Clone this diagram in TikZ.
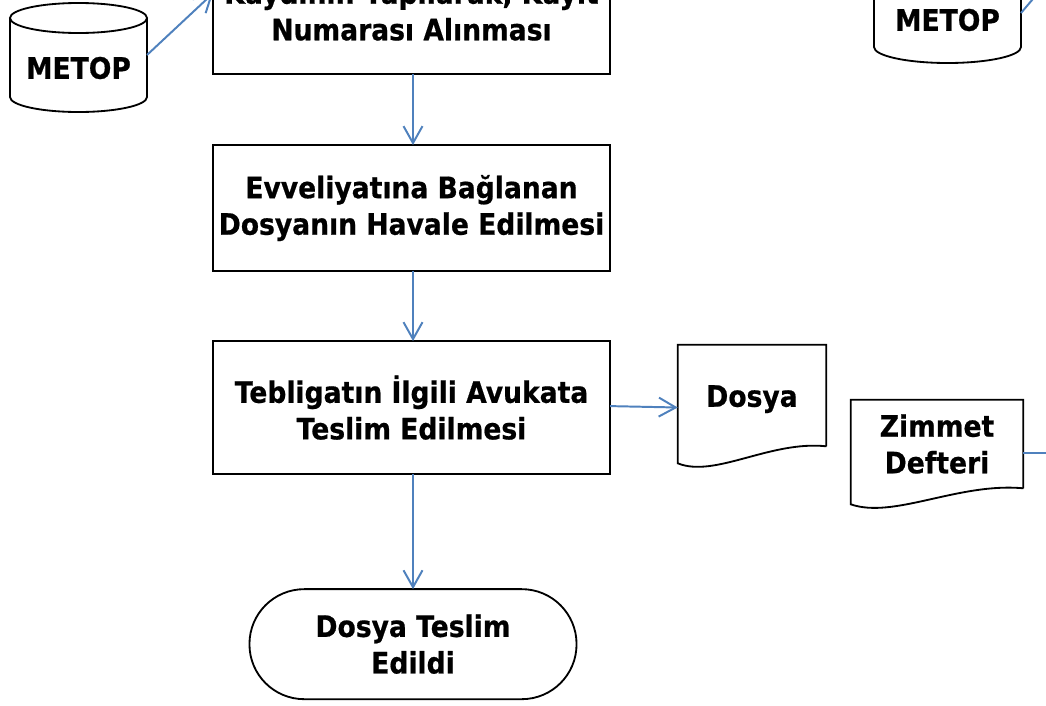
\documentclass[tikz,border=0pt]{standalone}
\usepackage{fontspec}
\setmainfont{DejaVu Sans}[FakeStretch=0.9,BoldFeatures={FakeBold=0.6}]
\usetikzlibrary{arrows.meta,calc,positioning}
\definecolor{okmavi}{RGB}{79,129,189}

\begin{document}
\begin{tikzpicture}[x=0.025cm,y=-0.025cm,
  yazi/.style={align=center,inner sep=0pt,font=\fontsize{21}{26}\selectfont\bfseries},
  kutu/.style={yazi,draw,line width=1.3pt,outer sep=0pt,minimum width=9.925cm,minimum height=3.15cm},
  cizgi/.style={line width=1.3pt},
  ok/.style={okmavi,line width=1.4pt,-{Straight Barb[length=12pt,width=13.5pt]}},
  bag/.style={okmavi,line width=1.4pt}]
  \useasboundingbox (0,0) rectangle (1046,705);
  \clip (0,0) rectangle (1046,705);

  % ana akis
  \node[kutu] (kayit) at (411.5,11) {Kaydının Yapılarak, Kayıt\\Numarası Alınması};
  \node[kutu,below=1.775cm of kayit] (evveliyat) {Evveliyatına Bağlanan\\Dosyanın Havale Edilmesi};
  \node[kutu,below=1.75cm of evveliyat,minimum height=3.325cm] (teblig) {Tebligatın İlgili Avukata\\Teslim Edilmesi};
  \node[kutu,below=2.875cm of teblig,xshift=0.0375cm,minimum width=8.175cm,minimum height=2.75cm,
        rounded corners=1.37cm] (son) {Dosya Teslim\\Edildi};
  \draw[ok] ($(kayit.south)+(1.5,0)$) -- ($(evveliyat.north)+(1.5,0)$);
  \draw[ok] ($(evveliyat.south)+(1.5,0)$) -- ($(teblig.north)+(1.5,0)$);
  \draw[ok] (son.north |- teblig.south) -- (son.north);

  % belgeler
  \node[yazi,minimum width=3.7cm,minimum height=2.525cm,text height=20pt,text depth=4pt] (dosya) at (752,395.5) {Dosya};
  \draw[cizgi] (dosya.south east) -- (dosya.north east) -- (dosya.north west)
     -- ($(dosya.south west)+(0,17)$) .. controls +(37,15) and +(-56,-6) .. (dosya.south east);
  \node[yazi,minimum width=4.3cm,minimum height=2.2cm] (zimmet) at (937,444) {Zimmet\\Defteri};
  \draw[cizgi] (zimmet.south east) -- (zimmet.north east) -- (zimmet.north west)
     -- ($(zimmet.south west)+(0,16)$) .. controls +(43,15) and +(-65,-6) .. (zimmet.south east);
  \draw[ok] ($(teblig.east)+(0,-1.5)$) -- ($(dosya.west)+(0,12)$);
  \coordinate (zimmetdis) at (1070,453);
  \draw[bag] ($(zimmet.east)+(0,9)$) -- (zimmetdis);

  % METOP veri tabanlari
  \node[yazi] (metopL) at (78.5,68) {METOP};
  \draw[cizgi] (10,18) -- (10,97) arc[start angle=180,end angle=0,x radius=68.5,y radius=15] -- (147,18);
  \draw[cizgi] (78.5,18) ellipse[x radius=68.5,y radius=15];
  \node[yazi] (metopR) at (947.5,20) {METOP};
  \draw[cizgi] (874,-40) -- (874,47) arc[start angle=180,end angle=0,x radius=73.5,y radius=16] -- (1021,-40);
  \coordinate (metopLsag) at (147,55);
  \coordinate (metopRsag) at (1021,13);
  \coordinate (metopRdis) at (1055,-27);
  \draw[ok] (metopLsag) -- ($(kayit.north west)!0.36!(kayit.south west)$);
  \draw[bag] (metopRsag) -- (metopRdis);
\end{tikzpicture}
\end{document}
